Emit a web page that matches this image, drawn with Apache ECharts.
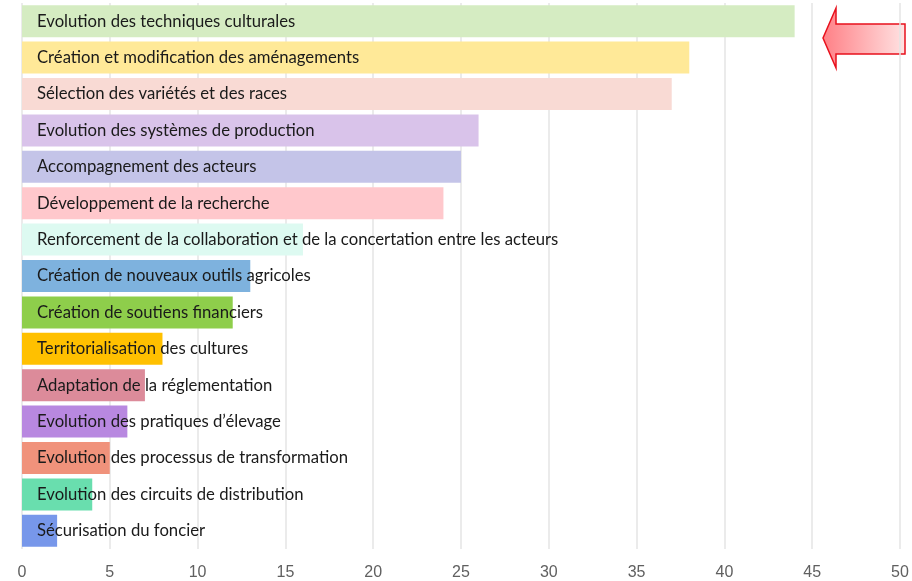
<!DOCTYPE html>
<html>
<head>
<meta charset="utf-8">
<script src="https://cdn.jsdelivr.net/npm/echarts@6/dist/echarts.min.js"></script>
<style>html,body{margin:0;padding:0;background:#fff}#c{width:912px;height:581px}</style>
</head>
<body>
<div id="c"></div>
<script>
const categories = [
  "Evolution des techniques culturales",
  "Création et modification des aménagements",
  "Sélection des variétés et des races",
  "Evolution des systèmes de production",
  "Accompagnement des acteurs",
  "Développement de la recherche",
  "Renforcement de la collaboration et de la concertation entre les acteurs",
  "Création de nouveaux outils agricoles",
  "Création de soutiens financiers",
  "Territorialisation des cultures",
  "Adaptation de la réglementation",
  "Evolution des pratiques d’élevage",
  "Evolution des processus de transformation",
  "Evolution des circuits de distribution",
  "Sécurisation du foncier"
];
const values = [44, 38, 37, 26, 25, 24, 16, 13, 12, 8, 7, 6, 5, 4, 2];
const barColors = ["#d5ecc2","#ffe998","#f9dad4","#d9c3ea","#c4c4e8","#ffc8cc","#ddfaf1","#7eb2de","#8ece4b","#ffc000","#dc8b9a","#b888e0","#f0927b","#69deae","#7797ea"];
const xTicks = { min: 0, max: 50, interval: 5 };

const chart = echarts.init(document.getElementById('c'));
chart.setOption({
  animation: false,
  grid: { left: 22, right: 12, top: 3, bottom: 32, containLabel: false },
  xAxis: {
    type: 'value', min: xTicks.min, max: xTicks.max, interval: xTicks.interval,
    axisLine: { show: false }, axisTick: { show: false },
    splitLine: { show: true, lineStyle: { color: '#e4e4e4', width: 1.5 } },
    axisLabel: { color: '#606060', fontSize: 16, fontFamily: 'Liberation Sans', margin: 16 }
  },
  yAxis: {
    type: 'category', data: categories, inverse: true,
    axisLine: { show: false }, axisTick: { show: false }, axisLabel: { show: false },
    splitLine: { show: false }
  },
  series: [{
    type: 'bar',
    data: values.map((v, i) => ({ value: v, itemStyle: { color: barColors[i] } })),
    barCategoryGap: '12%',
    label: {
      show: true,
      position: [15, '50%'],
      verticalAlign: 'middle',
      align: 'left',
      formatter: p => p.name,
      color: '#1a1a1a',
      fontSize: 16.7,
      fontFamily: 'Lato'
    }
  }],
  graphic: [{
    type: 'polygon',
    shape: { points: [[823, 38], [836, 8], [836, 24], [905, 24], [905, 54], [836, 54], [836, 68]] },
    style: {
      fill: new echarts.graphic.LinearGradient(0, 0, 1, 0, [
        { offset: 0, color: '#ff7f85' }, { offset: 1, color: '#ffe3e3' }
      ]),
      stroke: '#e8101c', lineWidth: 1.5
    }
  }]
});
</script>
</body>
</html>
